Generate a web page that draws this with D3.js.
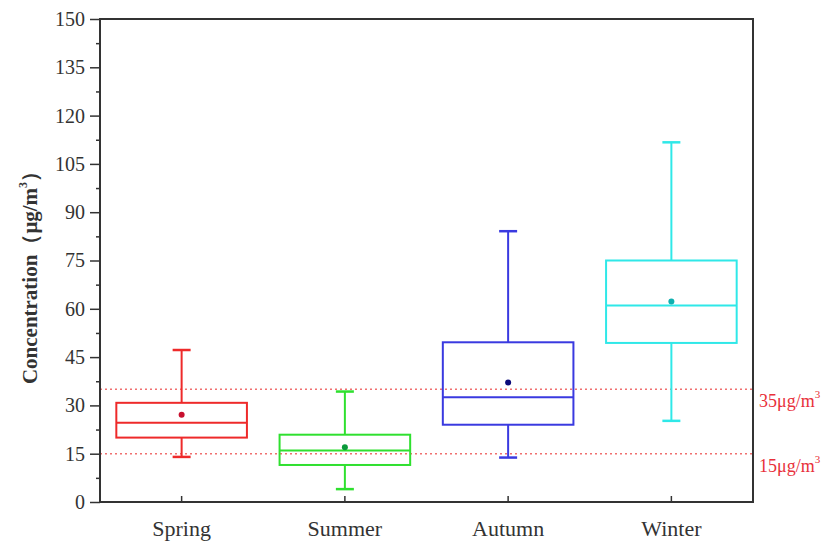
<!DOCTYPE html>
<html>
<head>
<meta charset="utf-8">
<script src="https://cdn.jsdelivr.net/npm/d3@7"></script>
<style>
  html, body { margin: 0; padding: 0; background: #fff; }
  svg { display: block; }
</style>
</head>
<body>
<svg id="chart" width="832" height="544"></svg>
<script>
// ---- data ----
const seasons = ["Spring", "Summer", "Autumn", "Winter"];
const whiskerLow = [14.0, 4.0, 13.8, 25.2];
const q1 = [20.0, 11.5, 24.0, 49.4];
const median = [24.6, 16.0, 32.5, 61.0];
const q3 = [30.8, 20.9, 49.6, 75.0];
const whiskerHigh = [47.2, 34.3, 84.1, 111.7];
const means = [27.1, 17.0, 37.1, 62.3];
const boxColors = ["#ee2a2a", "#2fe02f", "#3a3ae0", "#2fe8e8"];
const meanColors = ["#c8102e", "#0a9a3a", "#0a0a7a", "#10b0b0"];
const yTicks = [0, 15, 30, 45, 60, 75, 90, 105, 120, 135, 150];
const refValues = [35, 15];
const refLabels = ["35μg/m", "15μg/m"];

// ---- layout ----
const svg = d3.select("#chart");
const m = { left: 100, right: 753, top: 19, bottom: 502 };
const serif = "'Liberation Serif', 'Times New Roman', serif";

const x = d3.scaleBand().domain(seasons).range([m.left, m.right]).padding(0);
const y = d3.scaleLinear().domain([0, 150]).range([m.bottom, m.top]);

const boxW = x.bandwidth() * 0.8;
const capW = 18;

// reference lines
refValues.forEach((v, i) => {
  svg.append("line")
    .attr("x1", m.left).attr("x2", m.right)
    .attr("y1", y(v)).attr("y2", y(v))
    .attr("stroke", "#f07070").attr("stroke-width", 1.5)
    .attr("stroke-dasharray", "2,3");
  const t = svg.append("text")
    .attr("x", m.right + 6).attr("y", y(v) + 18)
    .attr("font-family", serif).attr("font-size", 18)
    .attr("fill", "#e8303a")
    .text(refLabels[i]);
  t.append("tspan").attr("dy", -9).attr("font-size", 11).text("3");
});

// boxes
const g = svg.append("g");
seasons.forEach((s, i) => {
  const cx = x(s) + x.bandwidth() / 2;
  const c = boxColors[i];
  const sw = 2;
  g.append("line").attr("x1", cx).attr("x2", cx)
    .attr("y1", y(q3[i])).attr("y2", y(whiskerHigh[i]))
    .attr("stroke", c).attr("stroke-width", sw);
  g.append("line").attr("x1", cx).attr("x2", cx)
    .attr("y1", y(q1[i])).attr("y2", y(whiskerLow[i]))
    .attr("stroke", c).attr("stroke-width", sw);
  [whiskerHigh[i], whiskerLow[i]].forEach(v => {
    g.append("line").attr("x1", cx - capW / 2).attr("x2", cx + capW / 2)
      .attr("y1", y(v)).attr("y2", y(v))
      .attr("stroke", c).attr("stroke-width", 2.5);
  });
  g.append("rect")
    .attr("x", cx - boxW / 2).attr("width", boxW)
    .attr("y", y(q3[i])).attr("height", y(q1[i]) - y(q3[i]))
    .attr("fill", "none").attr("stroke", c).attr("stroke-width", sw);
  g.append("line").attr("x1", cx - boxW / 2).attr("x2", cx + boxW / 2)
    .attr("y1", y(median[i])).attr("y2", y(median[i]))
    .attr("stroke", c).attr("stroke-width", sw);
  g.append("circle").attr("cx", cx).attr("cy", y(means[i])).attr("r", 3)
    .attr("fill", meanColors[i]);
});

// frame
svg.append("rect")
  .attr("x", m.left).attr("y", m.top)
  .attr("width", m.right - m.left).attr("height", m.bottom - m.top)
  .attr("fill", "none").attr("stroke", "#333").attr("stroke-width", 2);

// y axis
const yAxis = d3.axisLeft(y).tickValues(yTicks).tickSize(10).tickPadding(5);
const ya = svg.append("g").attr("transform", `translate(${m.left},0)`).call(yAxis);
ya.select(".domain").remove();
ya.selectAll(".tick line").attr("stroke", "#333").attr("stroke-width", 1.5);
ya.selectAll(".tick text").attr("font-family", serif).attr("font-size", 20).attr("fill", "#333");
const minor = d3.range(7.5, 150, 15);
const ym = d3.axisLeft(y).tickValues(minor).tickSize(4).tickFormat("");
const yma = svg.append("g").attr("transform", `translate(${m.left},0)`).call(ym);
yma.select(".domain").remove();
yma.selectAll(".tick line").attr("stroke", "#333").attr("stroke-width", 1.5);

// x axis
const xAxis = d3.axisBottom(x).tickSize(-6).tickPadding(18);
const xa = svg.append("g").attr("transform", `translate(0,${m.bottom})`).call(xAxis);
xa.select(".domain").remove();
xa.selectAll(".tick line").attr("stroke", "#333").attr("stroke-width", 1.5);
xa.selectAll(".tick text").attr("font-family", serif).attr("font-size", 22).attr("fill", "#333");

// y label
const yl = svg.append("text")
  .attr("transform", `translate(37,${(m.top + m.bottom) / 2 + 12}) rotate(-90)`)
  .attr("text-anchor", "middle")
  .attr("font-family", serif).attr("font-size", 21).attr("font-weight", "bold")
  .attr("fill", "#333");
yl.append("tspan").text("Concentration（μg/m");
yl.append("tspan").attr("dy", -10).attr("font-size", 12).text("3");
yl.append("tspan").attr("dy", 10).text("）");
</script>
</body>
</html>
